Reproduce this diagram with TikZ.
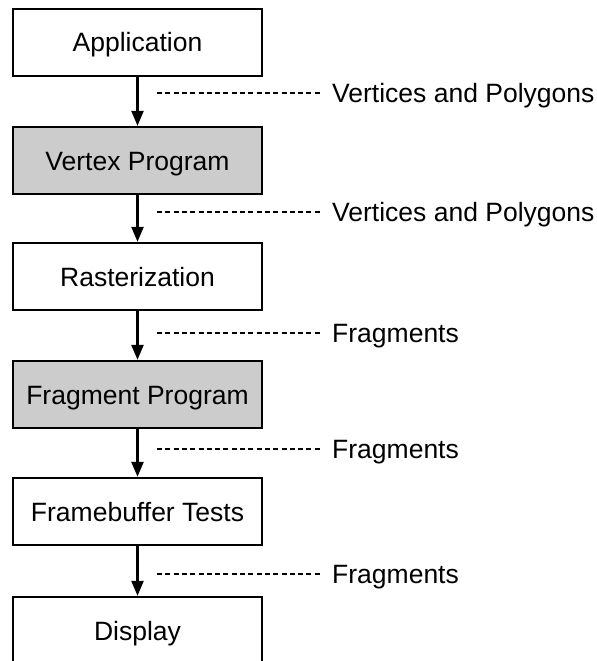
\documentclass[tikz,border=0pt]{standalone}
\usepackage{fontspec}
\setmainfont{Liberation Sans}
\usetikzlibrary{arrows.meta}
\begin{document}
\begin{tikzpicture}[x=1bp,y=-1bp,
  textsize/.style={font=\fontsize{26.6}{30}\selectfont, text height=19bp, text depth=0pt},
  stage/.style={draw=black, line width=2.4bp, minimum width=249bp, minimum height=67bp,
    inner sep=0pt, textsize, fill=white},
  shaded/.style={stage, fill=black!20},
  flow/.style={line width=2.4bp, -{Triangle[length=15bp,width=12bp]}},
  lead/.style={line width=1.2bp, dash pattern=on 5bp off 3.3bp},
  datalabel/.style={anchor=west, inner sep=0pt, textsize}]
  \clip (0,0) rectangle (597,661);
  \useasboundingbox (0,0) rectangle (597,661);

  % pipeline stages
  \node[stage]  (app)  at (137.5,42.5)  {Application};
  \node[shaded] (vp)   at (137.5,160.5) {Vertex Program};
  \node[stage]  (rast) at (137.5,276.5) {Rasterization};
  \node[shaded] (fp)   at (137.5,394.5) {Fragment Program};
  \node[stage]  (fb)   at (137.5,511.5) {Framebuffer Tests};
  \node[stage]  (disp) at (137.5,630.5) {Display};

  % flow arrows between stages
  \draw[flow] (app)  -- (vp);
  \draw[flow] (vp)   -- (rast);
  \draw[flow] (rast) -- (fp);
  \draw[flow] (fp)   -- (fb);
  \draw[flow] (fb)   -- (disp);

  % data labels with dashed leaders
  \coordinate (d1) at (157,93);
  \coordinate (d2) at (157,212);
  \coordinate (d3) at (157,333);
  \coordinate (d4) at (157,449);
  \coordinate (d5) at (157,574);
  \node[datalabel] (l1) at (332,93)  {Vertices and Polygons};
  \node[datalabel] (l2) at (332,212) {Vertices and Polygons};
  \node[datalabel] (l3) at (332,333) {Fragments};
  \node[datalabel] (l4) at (332,449) {Fragments};
  \node[datalabel] (l5) at (332,574) {Fragments};
  \foreach \i in {1,...,5} {
    \draw[lead] (d\i) -- ([xshift=-10bp]l\i.west);
  }
\end{tikzpicture}
\end{document}
